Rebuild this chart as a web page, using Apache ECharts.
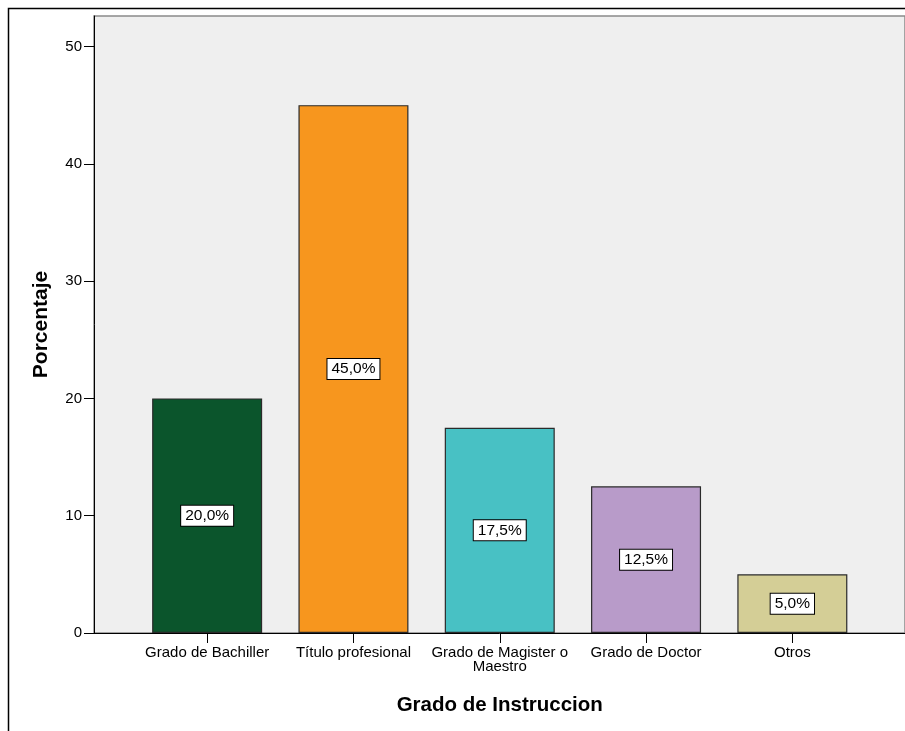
<!DOCTYPE html>
<html><head><meta charset="utf-8">
<script src="https://cdn.jsdelivr.net/npm/echarts@6/dist/echarts.min.js"></script>
<style>html,body{margin:0;padding:0;background:#fff}#c{width:905px;height:731px}</style>
</head><body><div id="c"></div>
<script>
const categories = ['Grado de Bachiller', 'Título profesional', 'Grado de Magister o\nMaestro', 'Grado de Doctor', 'Otros'];
const values = [20.0, 45.0, 17.5, 12.5, 5.0];
const barColors = ['#0b552c', '#f7961e', '#48c1c4', '#b89bc9', '#d4ce96'];
const yTicks = [0, 10, 20, 30, 40, 50];

const chart = echarts.init(document.getElementById('c'), null, {renderer: 'canvas'});
const font = 'Arial, "Liberation Sans", sans-serif';
const yMax = 52.6;
chart.setOption({
  animation: false,
  backgroundColor: '#fff',
  graphic: [
    {type: 'polyline', shape: {points: [[8.5, 731], [8.5, 8.5], [905, 8.5]]}, style: {stroke: '#000', lineWidth: 1.5, fill: null}, z: 100}
  ],
  grid: [
    {left: 94, right: -4, top: 16, bottom: 98, show: true, backgroundColor: '#efefef', borderColor: '#8a8a8a', borderWidth: 1.5},
    {left: 134, right: 39.5, top: 16, bottom: 98}
  ],
  xAxis: [
    {gridIndex: 0, type: 'value', min: 0, max: 1, axisLine: {show: true, onZero: false, lineStyle: {color: '#000', width: 1}}, axisTick: {show: false}, axisLabel: {show: false}, splitLine: {show: false}},
    {gridIndex: 1, type: 'category', data: categories,
     name: 'Grado de Instruccion', nameLocation: 'middle', nameGap: 62,
     nameTextStyle: {fontFamily: font, fontSize: 20.5, fontWeight: 'bold', color: '#000'},
     axisLine: {show: false},
     axisTick: {show: true, alignWithLabel: true, length: 10, lineStyle: {color: '#000', width: 1}},
     axisLabel: {fontFamily: font, fontSize: 15, color: '#000', margin: 13, lineHeight: 14, interval: 0}}
  ],
  yAxis: [
    {gridIndex: 0, type: 'value', min: 0, max: yMax, show: false},
    {gridIndex: 1, type: 'value', min: 0, max: yMax, interval: 10, offset: 40,
     name: 'Porcentaje', nameLocation: 'middle', nameGap: 42, nameRotate: 90,
     nameTextStyle: {fontFamily: font, fontSize: 21, fontWeight: 'bold', color: '#000'},
     axisLine: {show: true, lineStyle: {color: '#000', width: 1}},
     axisTick: {show: true, length: 10, lineStyle: {color: '#000'}, customValues: yTicks},
     axisLabel: {fontFamily: font, fontSize: 15, color: '#000', margin: 12, customValues: yTicks,
       formatter: v => (yTicks.includes(v) ? String(v) : '')},
     splitLine: {show: false}}
  ],
  series: [{
    type: 'bar', xAxisIndex: 1, yAxisIndex: 1, barWidth: 110,
    data: values.map((v, i) => ({value: v, itemStyle: {color: barColors[i]}})),
    itemStyle: {borderColor: '#2a2a2a', borderWidth: 1.2},
    label: {show: true, position: 'inside', fontFamily: font, fontSize: 15.5, color: '#000',
      backgroundColor: '#fff', borderColor: '#000', borderWidth: 1, padding: [3, 4, 1, 4],
      formatter: p => p.value.toFixed(1).replace('.', ',') + '%'}
  }]
});
</script></body></html>
